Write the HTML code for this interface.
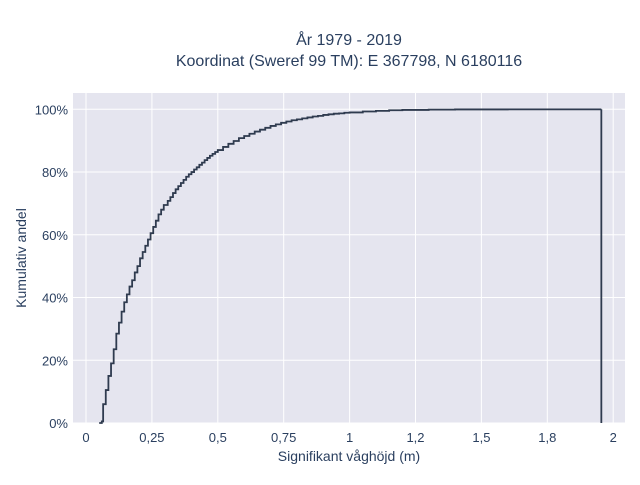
<!DOCTYPE html>
<html><head><meta charset="utf-8"><style>
body{margin:0;background:#fff;}
svg text{font-family:"Liberation Sans",sans-serif;fill:#2a3f5f;}
</style></head><body>
<svg id="chart" width="640" height="480" xmlns="http://www.w3.org/2000/svg">
<rect x="0" y="0" width="640" height="480" fill="#fff"/>
<text x="349" y="45" text-anchor="middle" font-size="16">År 1979 - 2019</text>
<text x="349" y="66" text-anchor="middle" font-size="16">Koordinat (Sweref 99 TM): E 367798, N 6180116</text>
<rect x="73" y="93" width="552" height="330" fill="#e5e5ef"/>
<g id="grid"></g>
<g id="ticks"></g>
<path id="line" fill="none" stroke="#2f3b4f" stroke-width="1.8"/>
<text x="349" y="461" text-anchor="middle" font-size="14">Signifikant våghöjd (m)</text>
<text transform="translate(26,258) rotate(-90)" text-anchor="middle" font-size="14">Kumulativ andel</text>
</svg>
<script>
const xTickVals=[0,0.25,0.5,0.75,1,1.25,1.5,1.75,2];
const xTickLabels=["0","0,25","0,5","0,75","1","1,2","1,5","1,8","2"];
const yTickVals=[0,0.2,0.4,0.6,0.8,1];
const yTickLabels=["0%","20%","40%","60%","80%","100%"];
const waveHeights=[0.05,0.06,0.065,0.075,0.085,0.095,0.105,0.115,0.125,0.135,0.145,0.155,0.165,0.175,0.185,0.195,0.205,0.215,0.225,0.235,0.245,0.255,0.265,0.275,0.285,0.295,
0.31,0.32,0.33,0.34,0.35,0.36,0.37,0.38,0.39,0.40,0.41,0.42,0.43,0.44,0.45,0.46,0.47,0.48,0.49,0.50,0.52,0.54,0.56,0.58,0.60,0.62,0.64,0.66,0.68,0.70,0.72,0.74,0.76,0.78,0.80,0.82,0.84,0.86,0.88,0.90,0.92,0.94,0.96,0.98,1.00,1.05,1.10,1.15,1.20,1.30,1.40,1.60,1.955];
const cumShare=[0,0.005,0.06,0.105,0.15,0.19,0.235,0.285,0.32,0.355,0.385,0.41,0.435,0.455,0.48,0.50,0.525,0.545,0.565,0.585,0.605,0.625,0.645,0.665,0.68,0.695,
0.708,0.72,0.733,0.745,0.755,0.765,0.775,0.785,0.793,0.80,0.808,0.815,0.823,0.83,0.838,0.845,0.852,0.858,0.864,0.87,0.88,0.89,0.899,0.908,0.915,0.922,0.929,0.935,0.941,0.947,0.952,0.957,0.961,0.965,0.968,0.971,0.974,0.977,0.979,0.982,0.984,0.986,0.987,0.989,0.990,0.993,0.995,0.997,0.998,0.999,0.9995,0.9998,1.0];
const X=v=>86+v*263.6, Y=v=>423-v*313.7;
const ns="http://www.w3.org/2000/svg";
const grid=document.getElementById('grid'), ticks=document.getElementById('ticks');
xTickVals.forEach((v,i)=>{
  const l=document.createElementNS(ns,'line');
  
  
  l.setAttribute('x1',X(v));l.setAttribute('x2',X(v));l.setAttribute('y1',93);l.setAttribute('y2',423);
  l.setAttribute('stroke','#fff');grid.appendChild(l);
  const t=document.createElementNS(ns,'text');
  
  
  t.setAttribute('x',X(v));t.setAttribute('y',442);t.setAttribute('text-anchor','middle');t.setAttribute('font-size','13');
  t.textContent=xTickLabels[i];ticks.appendChild(t);
});
yTickVals.forEach((v,i)=>{
  const l=document.createElementNS(ns,'line');
  
  
  l.setAttribute('x1',73);l.setAttribute('x2',625);l.setAttribute('y1',Y(v));l.setAttribute('y2',Y(v));
  l.setAttribute('stroke','#fff');grid.appendChild(l);
  const t=document.createElementNS(ns,'text');
  
  
  t.setAttribute('x',68);t.setAttribute('y',Y(v)+5);t.setAttribute('text-anchor','end');t.setAttribute('font-size','13');
  t.textContent=yTickLabels[i];ticks.appendChild(t);
});
let d='M'+X(waveHeights[0])+','+Y(0);
for(let i=0;i<waveHeights.length;i++){
  d+=' H'+X(waveHeights[i])+' V'+Y(cumShare[i]);
}
d+=' V'+Y(0);
document.getElementById('line').setAttribute('d',d);
</script>
</body></html>
